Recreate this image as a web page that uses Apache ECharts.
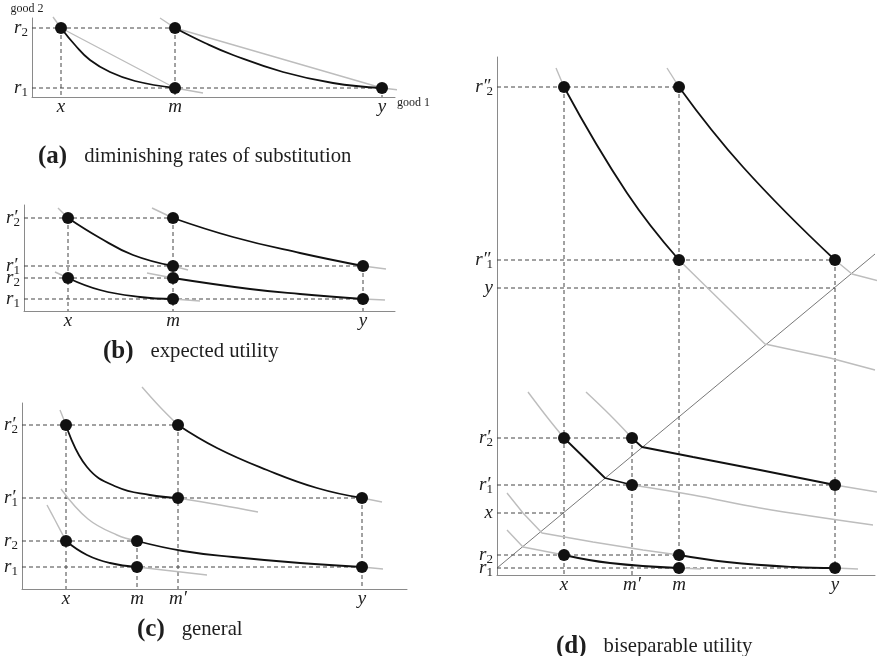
<!DOCTYPE html>
<html><head><meta charset="utf-8">
<script src="https://cdn.jsdelivr.net/npm/echarts@6/dist/echarts.min.js"></script>
<style>html,body{margin:0;padding:0;background:#fff}#c{width:888px;height:656px}</style>
</head><body><div id="c"></div>
<script>
// ---------- Panel (a): diminishing rates of substitution ----------
const aXTicks = [['x', 29], ['m', 143], ['y', 350]];
const aYTicks = [['r_2', 69], ['r_1', 9]];
const aDots = [[29, 69], [143, 69], [143, 9], [350, 9]];
const aBlack1 = [[29, 69], [43, 52], [58, 37], [78, 25], [103, 16], [143, 9]];
const aBlack2 = [[143, 69], [173, 54], [201, 42], [251, 25], [301, 14], [350, 9]];
const aGray1 = [[21, 80], [29, 69], [143, 9], [171, 4]];
const aGray2 = [[128, 79], [143, 69], [350, 9], [375, 6]];

// ---------- Panel (b): expected utility ----------
const bXTicks = [['x', 44], ['m', 149], ['y', 339]];
const bYTicks = [["r'_2", 93], ["r'_1", 45], ['r_2', 33], ['r_1', 12]];
const bDots = [[44, 93], [149, 93], [149, 45], [339, 45], [44, 33], [149, 33], [149, 12], [339, 12]];
const bBlackUL = [[44, 93], [76, 73], [109, 56], [149, 45]];
const bBlackUR = [[149, 93], [209, 74], [276, 58], [339, 45]];
const bBlackLL = [[44, 33], [76, 21], [116, 14], [149, 12]];
const bBlackLR = [[149, 33], [226, 22], [276, 17], [339, 12]];
const bGrayUL = [[[34, 103], [44, 93]], [[149, 45], [164, 41]]];
const bGrayUR = [[[128, 103], [149, 93]], [[339, 45], [362, 42]]];
const bGrayLL = [[[31, 39], [44, 33]], [[149, 12], [176, 10]]];
const bGrayLR = [[[123, 38], [149, 33]], [[339, 12], [361, 11]]];

// ---------- Panel (c): general ----------
const cXTicks = [['x', 44], ['m', 115], ["m'", 156], ['y', 340]];
const cYTicks = [["r'_2", 164], ["r'_1", 91], ['r_2', 48], ['r_1', 22]];
const cDots = [[44, 164], [156, 164], [156, 91], [340, 91], [44, 48], [115, 48], [115, 22], [340, 22]];
const cBlackUL = [[44, 164], [65, 122], [95, 102], [128, 94], [156, 91]];
const cBlackUR = [[156, 164], [195, 141], [245, 119], [295, 101], [340, 91]];
const cBlackLL = [[44, 48], [65, 34], [88, 26], [115, 22]];
const cBlackLR = [[115, 48], [161, 38], [211, 32], [278, 26], [340, 22]];
const cGrayUL = [[[38, 179], [44, 164]], [[156, 91], [198, 84], [236, 77]]];
const cGrayUR = [[[120, 202], [138, 182], [156, 164]], [[340, 91], [360, 87]]];
const cGrayLL = [[[25, 84], [33, 69], [44, 48]], [[115, 22], [185, 14]]];
const cGrayLR = [[[39, 100], [66, 70], [95, 54], [115, 48]], [[340, 22], [361, 20]]];

// ---------- Panel (d): biseparable utility ----------
const dXTicks = [['x', 67], ["m'", 135], ['m', 182], ['y', 338]];
const dYTicks = [["r''_2", 488], ["r''_1", 315], ['y', 287], ["r'_2", 137], ["r'_1", 90], ['x', 62], ['r_2', 20], ['r_1', 7]];
const dDots = [[67, 488], [182, 488], [182, 315], [338, 315], [67, 137], [135, 137], [135, 90], [338, 90], [67, 20], [182, 20], [182, 7], [338, 7]];
const dDiagonal = [[0, 7], [378, 321]];
const dBlackTL = [[67, 488], [130, 382], [182, 315]];
const dBlackTR = [[182, 488], [246, 408], [338, 315]];
const dBlackML = [[67, 137], [108, 97], [135, 90]];
const dBlackMR = [[135, 137], [145, 128], [196, 118], [263, 105], [338, 90]];
const dBlackLL = [[67, 20], [113, 12], [182, 7]];
const dBlackLR = [[182, 20], [230, 13], [296, 8], [338, 7]];
const dGraySmooth = [
  [[59, 507], [67, 488]],
  [[170, 507], [182, 488]],
  [[31, 183], [50, 158], [67, 137]],
  [[89, 183], [113, 160], [135, 137]],
  [[135, 90], [196, 80], [263, 67], [376, 50]],
  [[338, 90], [380, 83]],
  [[182, 7], [204, 6]],
  [[338, 7], [361, 6]]
];
const dGrayKinked = [
  [[182, 315], [230, 268], [268, 231], [333, 217], [378, 205]],
  [[338, 315], [355, 301], [390, 292]],
  [[10, 82], [26, 62], [45, 42], [96, 33], [146, 25], [182, 20]],
  [[10, 45], [26, 28], [67, 20]]
];

// ---------- captions ----------
const captions = [
  ['(a)', 'diminishing rates of substitution'],
  ['(b)', 'expected utility'],
  ['(c)', 'general'],
  ['(d)', 'biseparable utility']
];

// ---------- layout (pixel geometry of each panel) ----------
const grids = [
  { left: 32, top: 18, width: 363, height: 79 },
  { left: 24, top: 205, width: 371, height: 106 },
  { left: 22, top: 403, width: 385, height: 186 },
  { left: 497, top: 57, width: 378, height: 518 }
];
const captionPos = [[38, 144], [103, 339], [137, 617], [556, 634]];

const SERIF = "'Liberation Serif','DejaVu Serif',serif";
const C = '#1e1e1e';
const labelRich = {
  i: { fontFamily: SERIF, fontStyle: 'italic', fontSize: 19, color: C, lineHeight: 16 },
  s: { fontFamily: SERIF, fontSize: 13, color: C, lineHeight: 10, padding: [9, 0, 0, 0] },
  sp: { fontFamily: SERIF, fontSize: 13, color: C, lineHeight: 10, padding: [9, 0, 0, -4] }
};
function rich(s) {
  const m = s.match(/^([a-z])('*)(?:_(\d))?$/);
  const primes = m[2].length;
  const pr = primes === 2 ? '″' : (primes === 1 ? '′' : '');
  let out = '{i|' + m[1] + pr + '}';
  if (m[3]) out += (pr ? '{sp|' : '{s|') + m[3] + '}';
  return out;
}

const panels = [
  { xt: aXTicks, yt: aYTicks, dots: aDots, black: [aBlack1, aBlack2], graySmooth: [], grayKinked: [aGray1, aGray2] },
  { xt: bXTicks, yt: bYTicks, dots: bDots, black: [bBlackUL, bBlackUR, bBlackLL, bBlackLR],
    graySmooth: [].concat(bGrayUL, bGrayUR, bGrayLL, bGrayLR), grayKinked: [] },
  { xt: cXTicks, yt: cYTicks, dots: cDots, black: [cBlackUL, cBlackUR, cBlackLL, cBlackLR],
    graySmooth: [].concat(cGrayUL, cGrayUR, cGrayLL, cGrayLR), grayKinked: [] },
  { xt: dXTicks, yt: dYTicks, dots: dDots, black: [dBlackTL, dBlackTR, dBlackLR, dBlackLL],
    blackKinked: [dBlackML, dBlackMR], graySmooth: dGraySmooth, grayKinked: dGrayKinked, diag: dDiagonal }
];

const xAxes = [], yAxes = [], series = [], titles = [];
const axisLine = { show: true, lineStyle: { color: '#8a8a8a', width: 1 } };
panels.forEach((P, gi) => {
  const g = grids[gi];
  const xMap = {}, yMap = {};
  P.xt.forEach(t => xMap[t[1]] = t[0]);
  P.yt.forEach(t => yMap[t[1]] = t[0]);
  xAxes.push({
    gridIndex: gi, type: 'value', min: 0, max: g.width,
    axisLine, axisTick: { show: false }, splitLine: { show: false },
    name: gi === 0 ? 'good 1' : '', nameLocation: 'end', nameGap: 2,
    nameTextStyle: { fontFamily: SERIF, fontSize: 12, color: C, verticalAlign: 'top', padding: [0, 0, 0, 0], lineHeight: 12 },
    axisLabel: { customValues: P.xt.map(t => t[1]), formatter: v => rich(xMap[v]), rich: labelRich, margin: 2, hideOverlap: false }
  });
  // two label axes on the left so that close tick labels are both drawn
  [0, 1].forEach(k => {
    const vals = P.yt.filter((t, idx) => idx % 2 === k).map(t => t[1]);
    yAxes.push({
      gridIndex: gi, type: 'value', min: 0, max: g.height, position: 'left',
      axisLine: k === 0 ? axisLine : { show: false }, axisTick: { show: false }, splitLine: { show: false },
      name: (gi === 0 && k === 0) ? 'good 2' : '', nameLocation: 'end', nameGap: 1,
      nameTextStyle: { fontFamily: SERIF, fontSize: 12, color: C, align: 'center', padding: [0, 10, 2, 0] },
      axisLabel: { customValues: vals, formatter: v => rich(yMap[v]), rich: labelRich, margin: 4, hideOverlap: false }
    });
  });
  const yi = gi * 2;
  const base = { xAxisIndex: gi, yAxisIndex: yi, type: 'line', showSymbol: false, symbol: 'none', silent: true, clip: false, animation: false };
  P.xt.forEach(t => {
    const ys = P.dots.filter(d => d[0] === t[1]).map(d => d[1]);
    if (!ys.length) return;
    const top = Math.max.apply(null, ys);
    series.push(Object.assign({}, base, { data: [[t[1], top], [t[1], 0]], z: 1, lineStyle: { color: '#444', width: 1, type: [4, 3] } }));
  });
  P.yt.forEach(t => {
    const xs = P.dots.filter(d => d[1] === t[1]).map(d => d[0]);
    let right;
    if (xs.length) right = Math.max.apply(null, xs);
    else { const tx = P.xt.find(q => q[0] === t[0]); right = tx ? tx[1] : 0; }
    series.push(Object.assign({}, base, { data: [[0, t[1]], [right, t[1]]], z: 1, lineStyle: { color: '#444', width: 1, type: [4, 3] } }));
  });
  if (P.diag) series.push(Object.assign({}, base, { data: P.diag, z: 2, lineStyle: { color: '#555', width: 0.8 } }));
  P.graySmooth.forEach(c => series.push(Object.assign({}, base, { data: c, smooth: 0.4, z: 3, lineStyle: { color: '#bdbdbd', width: 1.4 } })));
  P.grayKinked.forEach(c => series.push(Object.assign({}, base, { data: c, smooth: false, z: 3, lineStyle: { color: '#bdbdbd', width: 1.4 } })));
  P.black.forEach(c => series.push(Object.assign({}, base, { data: c, smooth: 0.45, z: 4, lineStyle: { color: '#111', width: 1.8 } })));
  (P.blackKinked || []).forEach(c => series.push(Object.assign({}, base, { data: c, smooth: false, z: 4, lineStyle: { color: '#111', width: 1.8 } })));
  series.push({ type: 'scatter', xAxisIndex: gi, yAxisIndex: yi, data: P.dots, symbolSize: 12, itemStyle: { color: '#111', opacity: 1 }, z: 5, silent: true, animation: false });
  titles.push({
    text: '{b|' + captions[gi][0] + '}{t|' + captions[gi][1] + '}',
    left: captionPos[gi][0], top: captionPos[gi][1], padding: 0,
    textStyle: { rich: {
      b: { fontFamily: SERIF, fontWeight: 'bold', fontSize: 25, color: C },
      t: { fontFamily: SERIF, fontWeight: 'normal', fontSize: 20.7, color: C, padding: [0, 0, 0, 17] }
    } }
  });
});

const chart = echarts.init(document.getElementById('c'), null, { renderer: 'canvas' });
chart.setOption({
  backgroundColor: '#fff',
  animation: false,
  title: titles,
  grid: grids.map(g => Object.assign({ containLabel: false }, g)),
  xAxis: xAxes,
  yAxis: yAxes,
  series
});
</script></body></html>
